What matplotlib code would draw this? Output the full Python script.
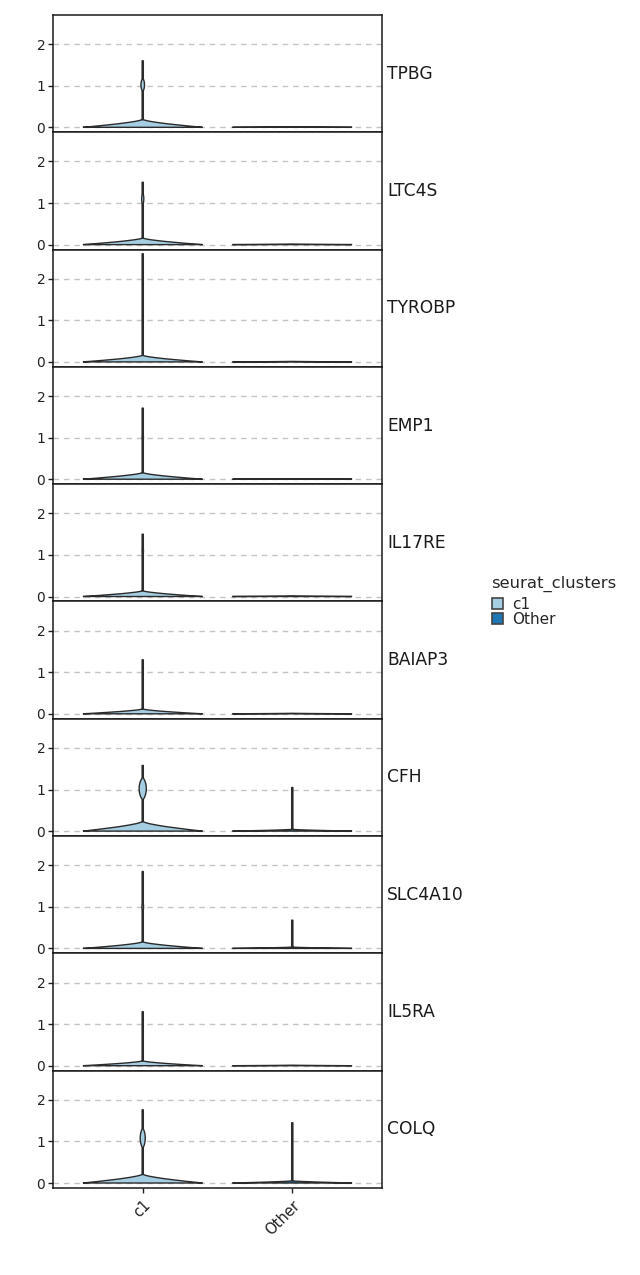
import numpy as np
import matplotlib
matplotlib.use("Agg")
import matplotlib.pyplot as plt
from matplotlib.patches import Patch

# ---------------- data ----------------
genes = ['TPBG', 'LTC4S', 'TYROBP', 'EMP1', 'IL17RE',
         'BAIAP3', 'CFH', 'SLC4A10', 'IL5RA', 'COLQ']
groups = ['c1', 'Other']
group_colors = ['#a6cee3', '#1f78b4']

# c1 violins
c1_max = [1.60, 1.50, 2.60, 1.71, 1.50, 1.30, 1.58, 1.85, 1.30, 1.76]
c1_neck = [0.18, 0.15, 0.15, 0.15, 0.13, 0.11, 0.22, 0.15, 0.11, 0.20]
c1_bulge_center = [1.02, 1.10, 1.0, 1.00, 1.10, 1.0, 1.02, 1.00, 1.0, 1.08]
c1_bulge_half = [0.16, 0.15, 0.1, 0.12, 0.12, 0.1, 0.27, 0.12, 0.1, 0.24]
c1_bulge_width = [0.03, 0.018, 0.0, 0.012, 0.012, 0.0, 0.06, 0.014, 0.0, 0.042]

# Other violins
other_max = [0.012, 0.012, 0.012, 0.012, 0.012, 0.012, 1.05, 0.68, 0.012, 1.45]
other_neck = [0.012, 0.012, 0.012, 0.012, 0.012, 0.012, 0.04, 0.03, 0.012, 0.05]

# shared shape of the low-expression base (fraction of neck height, relative width)
base_frac = [0.0, 0.10, 0.20, 0.35, 0.50, 0.65, 0.80, 0.90, 1.00]
base_width = [1.0, 0.86, 0.73, 0.55, 0.38, 0.24, 0.12, 0.06, 0.015]
neck_width = 0.01

yticks = [0, 1, 2]
ylim = (-0.12, 2.70)

# ---------------- plotting ----------------
W, H = 640, 1275
fig = plt.figure(figsize=(W / 100, H / 100), dpi=100)
left, right = 53 / W, 382 / W
top, bottom = 1 - 15 / H, 1 - 1188 / H
n = len(genes)
axes = fig.subplots(n, 1, sharex=True,
                    gridspec_kw=dict(left=left, right=right, top=top,
                                     bottom=bottom, hspace=0))

edge = '#2b2b2b'


def profile(vmax, neck, bc, bh, bw):
    y = np.linspace(0, vmax, 400)
    w = np.where(y < neck, np.interp(y / neck, base_frac, base_width), neck_width)
    if bw > 0:
        b = bw * np.clip(1 - ((y - bc) / bh) ** 2, 0, None) ** 0.8
        w = np.maximum(w, b)
    return y, w


for i, (ax, g) in enumerate(zip(axes, genes)):
    ax.set_axisbelow(True)
    ax.yaxis.grid(True, linestyle=(0, (4, 3.5)), color='#c4c4c4', linewidth=1.0)
    shapes = [
        profile(c1_max[i], c1_neck[i], c1_bulge_center[i], c1_bulge_half[i], c1_bulge_width[i]),
        profile(other_max[i], other_neck[i], 0, 1, 0),
    ]
    for pos, ((y, w), col) in enumerate(zip(shapes, group_colors)):
        hw = 0.4 * w
        xs = np.concatenate([pos - hw, (pos + hw)[::-1]])
        ys = np.concatenate([y, y[::-1]])
        ax.fill(xs, ys, facecolor=col, edgecolor=edge, linewidth=1.0, zorder=3)
    ax.set_ylim(*ylim)
    ax.set_xlim(-0.6, 1.6)
    ax.set_yticks(yticks)
    ax.tick_params(axis='y', labelsize=10, length=3.5, width=1, color='#222222',
                   labelcolor='#222222', pad=2)
    ax.tick_params(axis='x', length=3.5, width=1, color='#222222')
    for s in ax.spines.values():
        s.set_color('#1a1a1a')
        s.set_linewidth(1.1)
    ax.text(1.016, 0.5, g, transform=ax.transAxes, ha='left', va='center',
            fontsize=12.3, color='#1a1a1a')

axes[-1].set_xticks(range(len(groups)))
axes[-1].set_xticklabels(groups, rotation=45, ha='right', va='top',
                         rotation_mode='anchor', fontsize=10.5, color='#222222')

fig.text(491 / W, 1 - 584 / H, 'seurat_clusters', ha='left', va='center',
         fontsize=11.8, color='#262626')
handles = [Patch(facecolor=c, edgecolor='#444444', linewidth=1.2) for c in group_colors]
leg = fig.legend(handles, groups, loc='upper left',
                 bbox_to_anchor=(492 / W, 1 - 597 / H), frameon=False,
                 fontsize=11, handlelength=0.75,
                 handleheight=0.7, handletextpad=0.55, labelspacing=0.0,
                 borderpad=0, borderaxespad=0)
for t in leg.get_texts():
    t.set_color('#262626')

fig.savefig('out.png', dpi=100)
